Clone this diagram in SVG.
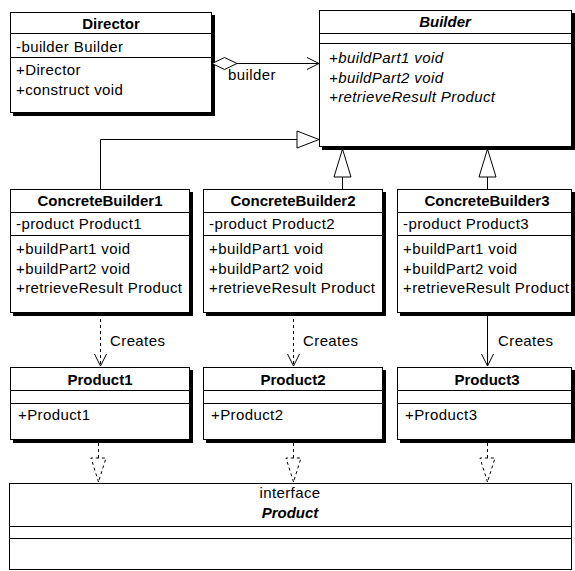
<svg xmlns="http://www.w3.org/2000/svg" width="575" height="571" viewBox="0 0 575 571">
  <style>
    .box { fill: #fff; stroke: #000; stroke-width: 1; }
    .shadow { fill: #000; }
    .sep { stroke: #000; stroke-width: 1; }
    .t { font-family: "Liberation Sans", Arial, sans-serif; font-size: 15px; letter-spacing: 0.4px; fill: #000; }
    .h { font-weight: bold; text-anchor: middle; letter-spacing: 0; }
    .i { font-style: italic; }
    .c { text-anchor: middle; }
    .line { fill: none; stroke: #000; stroke-width: 1; }
    .dash { stroke-dasharray: 3 3; }
    .hollow { fill: #fff; stroke: #000; stroke-width: 1; }
  </style>
  <defs>
    <marker id="open" viewBox="0 0 14 14" markerWidth="14" markerHeight="14" refX="13" refY="7" orient="auto" markerUnits="userSpaceOnUse">
      <path d="M1,1 L13,7 L1,13" fill="none" stroke="#000" stroke-width="1"/>
    </marker>
  </defs>
  <rect width="575" height="571" fill="#fff"/>

  <!-- Director -->
  <g id="director">
    <rect class="shadow" x="13" y="15" width="202" height="101"/>
    <rect class="box" x="10.5" y="12.5" width="201" height="100"/>
    <line class="sep" x1="10.5" y1="33.5" x2="211.5" y2="33.5"/>
    <line class="sep" x1="10.5" y1="57.5" x2="211.5" y2="57.5"/>
    <text class="t h" x="111" y="29">Director</text>
    <text class="t" x="16" y="52">-builder Builder</text>
    <text class="t" x="16" y="75">+Director</text>
    <text class="t" x="16" y="95">+construct void</text>
  </g>

  <!-- Builder (abstract) -->
  <g id="builder">
    <rect class="shadow" x="322" y="13" width="253" height="137"/>
    <rect class="box" x="319.5" y="10.5" width="252" height="136"/>
    <line class="sep" x1="319.5" y1="33.5" x2="571.5" y2="33.5"/>
    <line class="sep" x1="319.5" y1="43.5" x2="571.5" y2="43.5"/>
    <text class="t h i" x="445" y="27">Builder</text>
    <text class="t i" x="329" y="63">+buildPart1 void</text>
    <text class="t i" x="329" y="83">+buildPart2 void</text>
    <text class="t i" x="329" y="102">+retrieveResult Product</text>
  </g>

  <!-- ConcreteBuilder1 -->
  <g id="concreteBuilder1">
    <rect class="shadow" x="13" y="192" width="180" height="124"/>
    <rect class="box" x="10.5" y="189.5" width="179" height="123"/>
    <line class="sep" x1="10.5" y1="212.5" x2="189.5" y2="212.5"/>
    <line class="sep" x1="10.5" y1="235.5" x2="189.5" y2="235.5"/>
    <text class="t h" x="100" y="206">ConcreteBuilder1</text>
    <text class="t" x="16" y="229">-product Product1</text>
    <text class="t" x="16" y="254">+buildPart1 void</text>
    <text class="t" x="16" y="274">+buildPart2 void</text>
    <text class="t" x="16" y="293">+retrieveResult Product</text>
  </g>

  <!-- ConcreteBuilder2 -->
  <g id="concreteBuilder2">
    <rect class="shadow" x="206" y="192" width="180" height="124"/>
    <rect class="box" x="203.5" y="189.5" width="179" height="123"/>
    <line class="sep" x1="203.5" y1="212.5" x2="382.5" y2="212.5"/>
    <line class="sep" x1="203.5" y1="235.5" x2="382.5" y2="235.5"/>
    <text class="t h" x="293" y="206">ConcreteBuilder2</text>
    <text class="t" x="209" y="229">-product Product2</text>
    <text class="t" x="209" y="254">+buildPart1 void</text>
    <text class="t" x="209" y="274">+buildPart2 void</text>
    <text class="t" x="209" y="293">+retrieveResult Product</text>
  </g>

  <!-- ConcreteBuilder3 -->
  <g id="concreteBuilder3">
    <rect class="shadow" x="400" y="192" width="175" height="124"/>
    <rect class="box" x="397.5" y="189.5" width="174" height="123"/>
    <line class="sep" x1="397.5" y1="212.5" x2="571.5" y2="212.5"/>
    <line class="sep" x1="397.5" y1="235.5" x2="571.5" y2="235.5"/>
    <text class="t h" x="487" y="206">ConcreteBuilder3</text>
    <text class="t" x="403" y="229">-product Product3</text>
    <text class="t" x="403" y="254">+buildPart1 void</text>
    <text class="t" x="403" y="274">+buildPart2 void</text>
    <text class="t" x="403" y="293">+retrieveResult Product</text>
  </g>

  <!-- Product1 -->
  <g id="product1">
    <rect class="shadow" x="13" y="370" width="180" height="73"/>
    <rect class="box" x="10.5" y="367.5" width="179" height="72"/>
    <line class="sep" x1="10.5" y1="390.5" x2="189.5" y2="390.5"/>
    <line class="sep" x1="10.5" y1="403.5" x2="189.5" y2="403.5"/>
    <text class="t h" x="100" y="385">Product1</text>
    <text class="t" x="18" y="420">+Product1</text>
  </g>

  <!-- Product2 -->
  <g id="product2">
    <rect class="shadow" x="206" y="370" width="180" height="73"/>
    <rect class="box" x="203.5" y="367.5" width="179" height="72"/>
    <line class="sep" x1="203.5" y1="390.5" x2="382.5" y2="390.5"/>
    <line class="sep" x1="203.5" y1="403.5" x2="382.5" y2="403.5"/>
    <text class="t h" x="293" y="385">Product2</text>
    <text class="t" x="211" y="420">+Product2</text>
  </g>

  <!-- Product3 -->
  <g id="product3">
    <rect class="shadow" x="400" y="370" width="175" height="73"/>
    <rect class="box" x="397.5" y="367.5" width="174" height="72"/>
    <line class="sep" x1="397.5" y1="390.5" x2="571.5" y2="390.5"/>
    <line class="sep" x1="397.5" y1="403.5" x2="571.5" y2="403.5"/>
    <text class="t h" x="487" y="385">Product3</text>
    <text class="t" x="405" y="420">+Product3</text>
  </g>

  <!-- Product (interface) -->
  <g id="productInterface">
    <rect class="box" x="9.5" y="483.5" width="562" height="86"/>
    <line class="sep" x1="9.5" y1="526.5" x2="571.5" y2="526.5"/>
    <line class="sep" x1="9.5" y1="538.5" x2="571.5" y2="538.5"/>
    <text class="t c" x="290" y="498">interface</text>
    <text class="t h i" x="290" y="518">Product</text>
  </g>

  <!-- Connectors -->
  <g id="connectors">
    <!-- Director aggregates Builder -->
    <path class="line" d="M237,63.5 L319,63.5" marker-end="url(#open)"/>
    <polygon class="hollow" points="212,63.5 224.5,57.5 237,63.5 224.5,69.5"/>
    <text class="t" x="228" y="80">builder</text>

    <!-- ConcreteBuilder1 generalises Builder -->
    <path class="line" d="M100.5,189 L100.5,139.5 L297,139.5"/>
    <polygon class="hollow" points="297,131 297,148 319,139.5"/>

    <!-- ConcreteBuilder2 / 3 generalise Builder -->
    <line class="line" x1="342.5" y1="177" x2="342.5" y2="189"/>
    <polygon class="hollow" points="342.5,149 334,177 351,177"/>
    <line class="line" x1="487.5" y1="177" x2="487.5" y2="189"/>
    <polygon class="hollow" points="487.5,149 479,177 496,177"/>

    <!-- Creates dependencies -->
    <path class="line dash" d="M100.5,313 L100.5,366" marker-end="url(#open)"/>
    <text class="t" x="110" y="346">Creates</text>
    <path class="line dash" d="M293.5,313 L293.5,366" marker-end="url(#open)"/>
    <text class="t" x="303" y="346">Creates</text>
    <path class="line" d="M487.5,313 L487.5,366" marker-end="url(#open)"/>
    <text class="t" x="498" y="346">Creates</text>

    <!-- Products realise the Product interface -->
    <line class="line dash" x1="98.5" y1="443" x2="98.5" y2="458"/>
    <polygon class="hollow dash" points="98.5,482 91,458 106,458"/>
    <line class="line dash" x1="293.5" y1="443" x2="293.5" y2="458"/>
    <polygon class="hollow dash" points="293.5,482 286,458 301,458"/>
    <line class="line dash" x1="487.5" y1="443" x2="487.5" y2="458"/>
    <polygon class="hollow dash" points="487.5,482 480,458 495,458"/>
  </g>
</svg>
